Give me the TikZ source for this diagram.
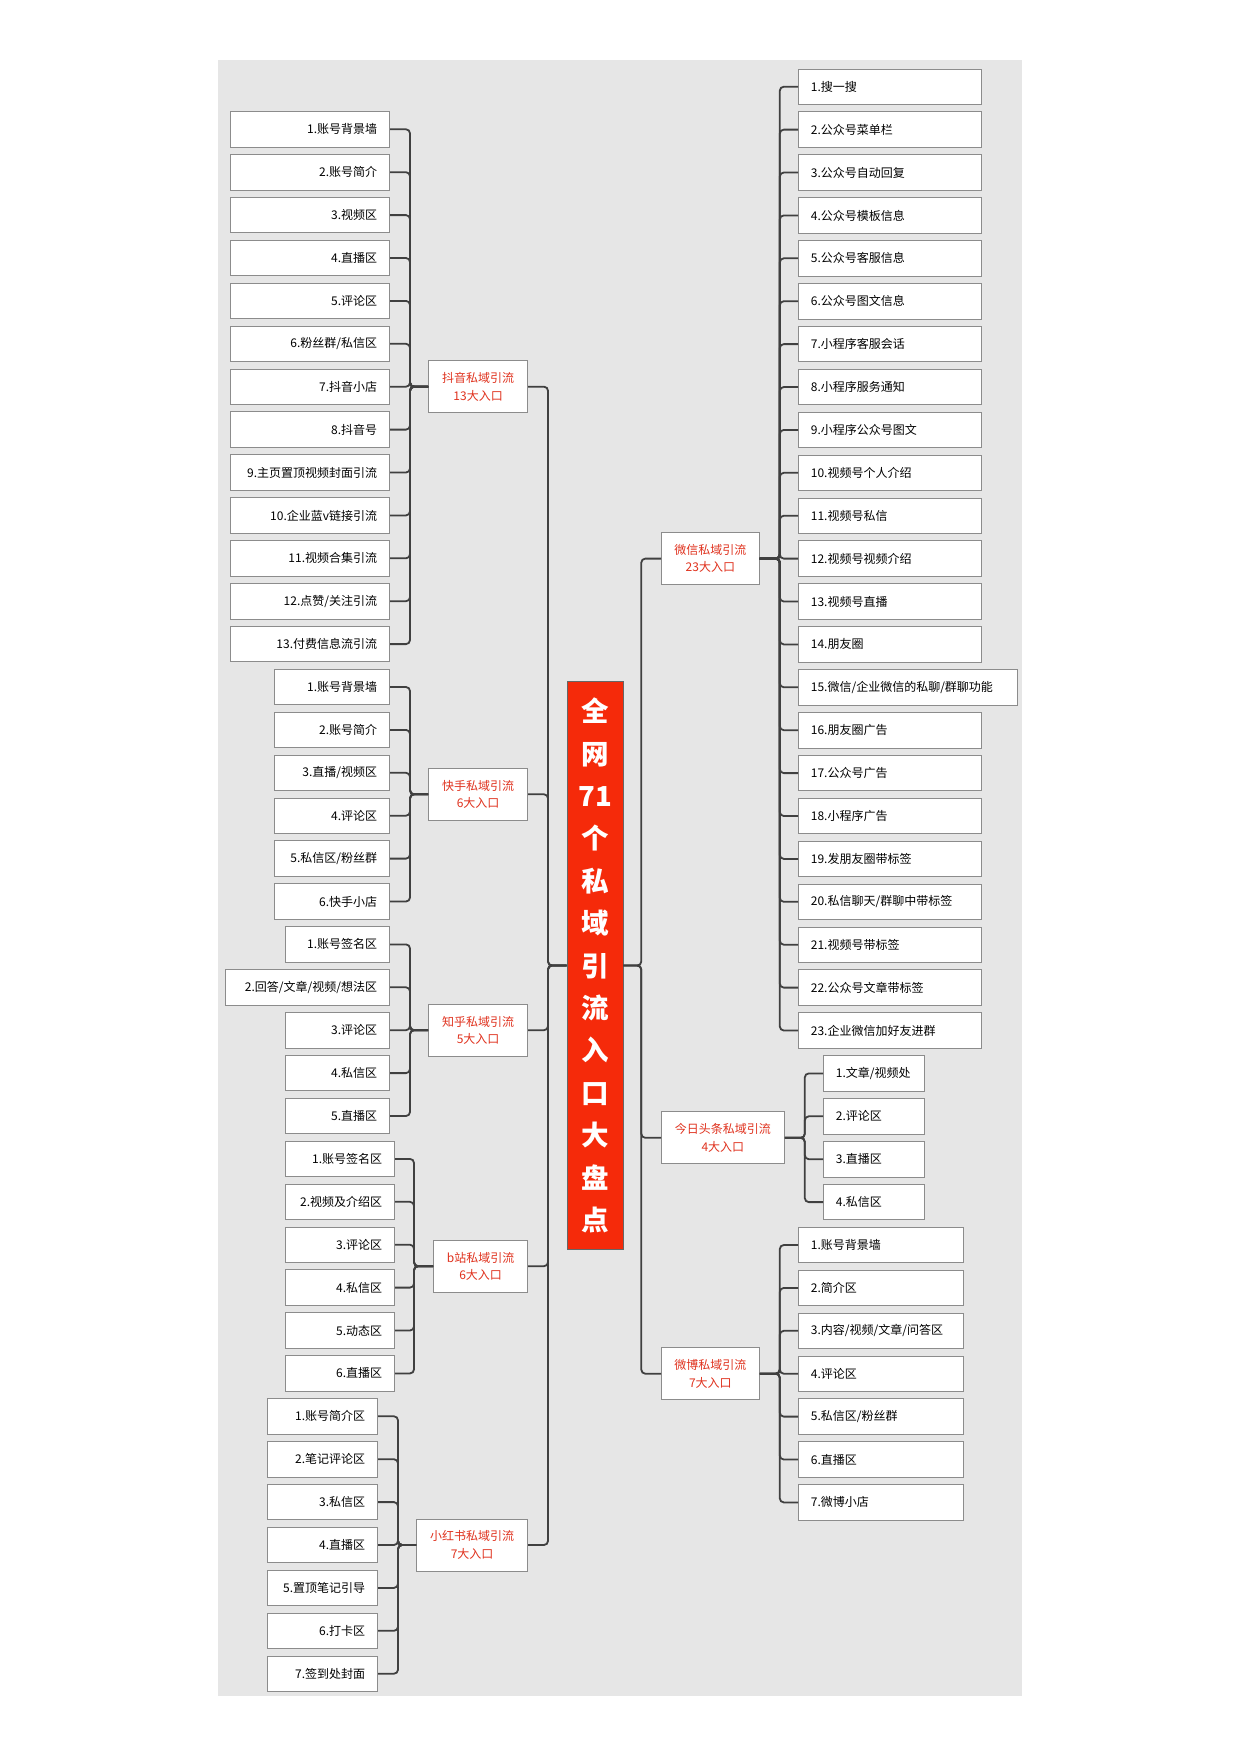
\documentclass[tikz,border=0pt]{standalone}
\usepackage{fontspec}
\newfontfamily\cjk{Noto Sans CJK SC}
\definecolor{bggray}{HTML}{E6E6E6}
\definecolor{titlered}{HTML}{F52A0A}
\definecolor{catred}{HTML}{E0321E}

\begin{document}
\begin{tikzpicture}[x=1pt,y=-1pt,
	leaf/.style={draw=black!45, fill=white, line width=0.8pt, minimum height=35.5pt,
		inner xsep=12.5pt, inner ysep=0pt, font=\cjk\fontsize{12}{14}\selectfont},
	lleaf/.style={leaf, anchor=east, align=right, text width=#1pt},
	rleaf/.style={leaf, anchor=west, align=left, text width=#1pt},
	cat/.style={draw=black!45, fill=white, line width=0.8pt, minimum height=52pt,
		minimum width=#1pt, align=center, text=catred, font=\cjk\fontsize{12}{17.5}\selectfont},
	link/.style={draw=black!75, line width=1.8pt, rounded corners=4pt}]
			\useasboundingbox (0,0) rectangle (1240,1754);
			\fill[white] (0,0) rectangle (1240,1754);
			\fill[bggray] (218,60) rectangle (1022,1696);
			% centre
			\node[fill=titlered, draw=black!60, line width=0.6pt, minimum width=56pt, minimum height=567.6pt,
				text=white, align=center, font=\cjk\bfseries\fontsize{27.5}{42.4}\selectfont]
				(qw) at (595,965.5) {全\\网\\71\\个\\私\\域\\引\\流\\入\\口\\大\\盘\\点};
			% left branches
			\node[cat=99, anchor=east] (dy) at (528,386.7) {抖音私域引流\\13大入口};
			\node[cat=99, anchor=east] (ks) at (528,794.3) {快手私域引流\\6大入口};
			\node[cat=99, anchor=east] (zh) at (528,1030.2) {知乎私域引流\\5大入口};
			\node[cat=94, anchor=east] (bl) at (528,1266.2) {b站私域引流\\6大入口};
			\node[cat=111, anchor=east] (xhs) at (528,1545) {小红书私域引流\\7大入口};
			% right branches
			\node[cat=98, anchor=west] (wx) at (661,558.6) {微信私域引流\\23大入口};
			\node[cat=123, anchor=west] (tt) at (661,1137.8) {今日头条私域引流\\4大入口};
			\node[cat=98, anchor=west] (wb) at (661,1373.7) {微博私域引流\\7大入口};
			% douyin
			\node[lleaf=134] (dy1) at (390,129.3) {1.账号背景墙};
			\node[lleaf=134] (dy2) at (390,172.2) {2.账号简介};
			\node[lleaf=134] (dy3) at (390,215.1) {3.视频区};
			\node[lleaf=134] (dy4) at (390,258.0) {4.直播区};
			\node[lleaf=134] (dy5) at (390,300.9) {5.评论区};
			\node[lleaf=134] (dy6) at (390,343.8) {6.粉丝群/私信区};
			\node[lleaf=134] (dy7) at (390,386.7) {7.抖音小店};
			\node[lleaf=134] (dy8) at (390,429.6) {8.抖音号};
			\node[lleaf=134] (dy9) at (390,472.5) {9.主页置顶视频封面引流};
			\node[lleaf=134] (dy10) at (390,515.4) {10.企业蓝v链接引流};
			\node[lleaf=134] (dy11) at (390,558.3) {11.视频合集引流};
			\node[lleaf=134] (dy12) at (390,601.2) {12.点赞/关注引流};
			\node[lleaf=134] (dy13) at (390,644.1) {13.付费信息流引流};
			% kuaishou
			\node[lleaf=90] (ks1) at (390,687.0) {1.账号背景墙};
			\node[lleaf=90] (ks2) at (390,729.9) {2.账号简介};
			\node[lleaf=90] (ks3) at (390,772.8) {3.直播/视频区};
			\node[lleaf=90] (ks4) at (390,815.7) {4.评论区};
			\node[lleaf=90] (ks5) at (390,858.6) {5.私信区/粉丝群};
			\node[lleaf=90] (ks6) at (390,901.5) {6.快手小店};
			% zhihu
			\node[lleaf=79] (zh1) at (390,944.4) {1.账号签名区};
			\node[lleaf=139] (zh2) at (390,987.3) {2.回答/文章/视频/想法区};
			\node[lleaf=79] (zh3) at (390,1030.2) {3.评论区};
			\node[lleaf=79] (zh4) at (390,1073.1) {4.私信区};
			\node[lleaf=79] (zh5) at (390,1116.0) {5.直播区};
			% bilibili
			\node[lleaf=84] (bl1) at (395,1158.9) {1.账号签名区};
			\node[lleaf=84] (bl2) at (395,1201.8) {2.视频及介绍区};
			\node[lleaf=84] (bl3) at (395,1244.7) {3.评论区};
			\node[lleaf=84] (bl4) at (395,1287.6) {4.私信区};
			\node[lleaf=84] (bl5) at (395,1330.5) {5.动态区};
			\node[lleaf=84] (bl6) at (395,1373.4) {6.直播区};
			% xiaohongshu
			\node[lleaf=85] (xhs1) at (378,1416.3) {1.账号简介区};
			\node[lleaf=85] (xhs2) at (378,1459.2) {2.笔记评论区};
			\node[lleaf=85] (xhs3) at (378,1502.1) {3.私信区};
			\node[lleaf=85] (xhs4) at (378,1545.0) {4.直播区};
			\node[lleaf=85] (xhs5) at (378,1587.9) {5.置顶笔记引导};
			\node[lleaf=85] (xhs6) at (378,1630.8) {6.打卡区};
			\node[lleaf=85] (xhs7) at (378,1673.7) {7.签到处封面};
			% weixin
			\node[rleaf=158] (wx1) at (798,86.7) {1.搜一搜};
			\node[rleaf=158] (wx2) at (798,129.6) {2.公众号菜单栏};
			\node[rleaf=158] (wx3) at (798,172.5) {3.公众号自动回复};
			\node[rleaf=158] (wx4) at (798,215.4) {4.公众号模板信息};
			\node[rleaf=158] (wx5) at (798,258.3) {5.公众号客服信息};
			\node[rleaf=158] (wx6) at (798,301.2) {6.公众号图文信息};
			\node[rleaf=158] (wx7) at (798,344.1) {7.小程序客服会话};
			\node[rleaf=158] (wx8) at (798,387.0) {8.小程序服务通知};
			\node[rleaf=158] (wx9) at (798,429.9) {9.小程序公众号图文};
			\node[rleaf=158] (wx10) at (798,472.8) {10.视频号个人介绍};
			\node[rleaf=158] (wx11) at (798,515.7) {11.视频号私信};
			\node[rleaf=158] (wx12) at (798,558.6) {12.视频号视频介绍};
			\node[rleaf=158] (wx13) at (798,601.5) {13.视频号直播};
			\node[rleaf=158] (wx14) at (798,644.4) {14.朋友圈};
			\node[rleaf=194] (wx15) at (798,687.3) {15.微信/企业微信的私聊/群聊功能};
			\node[rleaf=158] (wx16) at (798,730.2) {16.朋友圈广告};
			\node[rleaf=158] (wx17) at (798,773.1) {17.公众号广告};
			\node[rleaf=158] (wx18) at (798,816.0) {18.小程序广告};
			\node[rleaf=158] (wx19) at (798,858.9) {19.发朋友圈带标签};
			\node[rleaf=158] (wx20) at (798,901.8) {20.私信聊天/群聊中带标签};
			\node[rleaf=158] (wx21) at (798,944.7) {21.视频号带标签};
			\node[rleaf=158] (wx22) at (798,987.6) {22.公众号文章带标签};
			\node[rleaf=158] (wx23) at (798,1030.5) {23.企业微信加好友进群};
			% toutiao
			\node[rleaf=76] (tt1) at (823,1073.4) {1.文章/视频处};
			\node[rleaf=76] (tt2) at (823,1116.3) {2.评论区};
			\node[rleaf=76] (tt3) at (823,1159.2) {3.直播区};
			\node[rleaf=76] (tt4) at (823,1202.1) {4.私信区};
			% weibo
			\node[rleaf=140] (wb1) at (798,1245.0) {1.账号背景墙};
			\node[rleaf=140] (wb2) at (798,1287.9) {2.简介区};
			\node[rleaf=140] (wb3) at (798,1330.8) {3.内容/视频/文章/问答区};
			\node[rleaf=140] (wb4) at (798,1373.7) {4.评论区};
			\node[rleaf=140] (wb5) at (798,1416.6) {5.私信区/粉丝群};
			\node[rleaf=140] (wb6) at (798,1459.5) {6.直播区};
			\node[rleaf=140] (wb7) at (798,1502.4) {7.微博小店};
			% connectors
			\foreach \i in {1,...,13} \draw[link] (dy\i.east) -- ++(20,0) |- (dy.west);
			\foreach \i in {1,...,6} \draw[link] (ks\i.east) -- ++(20,0) |- (ks.west);
			\foreach \i in {1,...,5} \draw[link] (zh\i.east) -- ++(20,0) |- (zh.west);
			\foreach \i in {1,...,6} \draw[link] (bl\i.east) -- ++(19,0) |- (bl.west);
			\foreach \i in {1,...,7} \draw[link] (xhs\i.east) -- ++(20,0) |- (xhs.west);
			\foreach \c in {dy,ks,zh,bl,xhs} \draw[link] (\c.east) -- ++(20,0) |- (qw.west);
			\foreach \c in {wx,tt,wb} \draw[link] (qw.east) -- ++(18,0) |- (\c.west);
			\foreach \i in {1,...,23} \draw[link] (wx.east) -- ++(20,0) |- (wx\i.west);
			\foreach \i in {1,...,4} \draw[link] (tt.east) -- ++(20,0) |- (tt\i.west);
			\foreach \i in {1,...,7} \draw[link] (wb.east) -- ++(20,0) |- (wb\i.west);
		\end{tikzpicture}
\end{document}
